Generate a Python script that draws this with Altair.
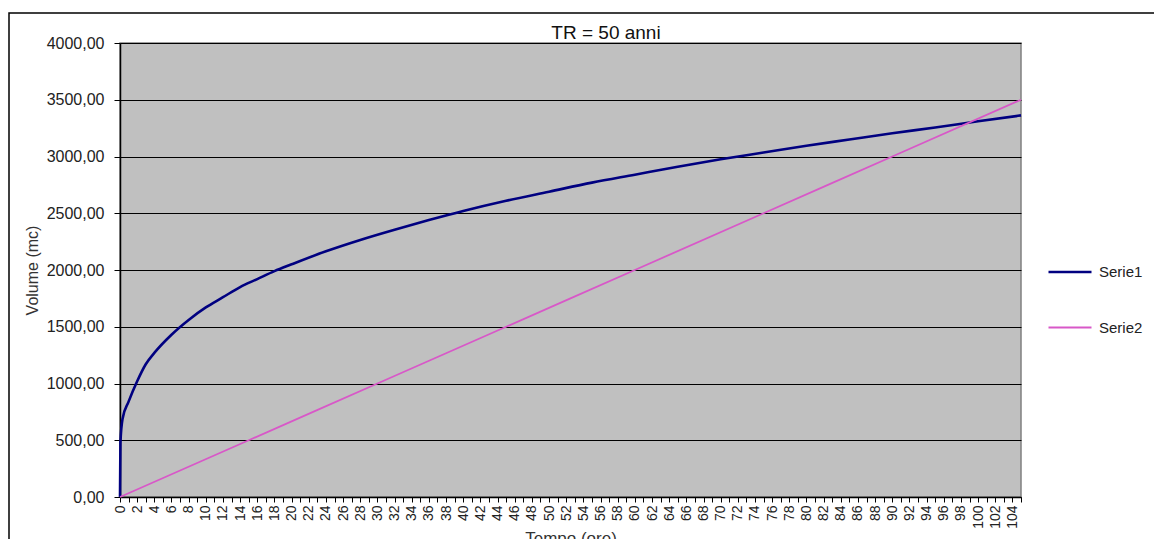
import altair as alt
import pandas as pd

# Serie1 – volume curve (hours, m3)
hours_s1 = [0, 0.05, 0.3, 1, 2, 3, 4, 6, 8, 10, 12, 14, 16, 18, 20, 24, 28, 32,
            36, 40, 45, 50, 55, 60, 65, 70, 75, 80, 85, 90, 95, 100, 105]
volume_s1 = [0, 480, 690, 840, 1020, 1170, 1270, 1430, 1560, 1670, 1760, 1850,
             1920, 1990, 2050, 2165, 2265, 2355, 2440, 2520, 2610, 2690, 2770,
             2840, 2910, 2975, 3035, 3095, 3150, 3205, 3255, 3310, 3362]
# Serie2 – straight line
hours_s2 = [0, 15, 30, 45, 60, 75, 90, 105]
volume_s2 = [0, 500, 1000, 1500, 2000, 2500, 3000, 3500]

series_names = ["Serie1", "Serie2"]
series_colors = ["#000080", "#D858C8"]
series_widths = [2.6, 1.8]
x_ticks = list(range(0, 106))
y_ticks = list(range(0, 4001, 500))
chart_title = "TR = 50 anni"

rows = [{"ore": h, "volume": v, "serie": "Serie1"} for h, v in zip(hours_s1, volume_s1)]
rows += [{"ore": h, "volume": v, "serie": "Serie2"} for h, v in zip(hours_s2, volume_s2)]
df = pd.DataFrame(rows)

FONT = "Liberation Sans"

legend = alt.Legend(
    title=None, orient="none", legendX=927, legendY=206,
    symbolType="stroke", symbolSize=1849, rowPadding=25,
    labelFont=FONT, labelFontSize=15, labelColor="#222222", labelOffset=6,
)

lines = alt.Chart(df).mark_line(interpolate="monotone").encode(
    x=alt.X("ore:Q",
            scale=alt.Scale(domain=[0, 105], nice=False, zero=True),
            axis=alt.Axis(values=x_ticks,
                          labelExpr="datum.value % 2 == 0 ? '' + datum.value : ''",
                          labelAngle=270, labelAlign="right", labelBaseline="middle",
                          labelFontSize=14, labelPadding=3, tickSize=5,
                          title="Tempo (ore)", titleFontSize=17, titlePadding=2,
                          grid=False)),
    y=alt.Y("volume:Q",
            scale=alt.Scale(domain=[0, 4000], nice=False),
            axis=alt.Axis(values=y_ticks,
                          labelExpr="replace(format(datum.value, '.2f'), '.', ',')",
                          labelFontSize=16, labelPadding=10, tickSize=6,
                          title="Volume (mc)", titleFontSize=16, titlePadding=6,
                          grid=True, gridColor="#000000", gridWidth=1)),
    color=alt.Color("serie:N",
                    scale=alt.Scale(domain=series_names, range=series_colors),
                    legend=legend),
    strokeWidth=alt.StrokeWidth("serie:N",
                                scale=alt.Scale(domain=series_names, range=series_widths),
                                legend=legend),
)

frame = alt.Chart(alt.Data(values=[{"f": 1}])).mark_rect(
    fill="transparent", stroke="#000000", strokeWidth=1.5
).encode(
    x=alt.value(-111), x2=alt.value(1080), y=alt.value(-30), y2=alt.value(600)
)

title_text = alt.Chart(alt.Data(values=[{"t": chart_title}])).mark_text(
    font=FONT, fontSize=19, color="#111111", align="center", baseline="alphabetic"
).encode(
    x=alt.value(486), y=alt.value(-4), text="t:N"
)

chart = alt.layer(lines, frame, title_text).properties(
    width=901, height=454,
    padding={"left": 112, "top": 35, "right": 133, "bottom": 42},
    autosize="none",
).configure(
    font=FONT,
).configure_view(
    fill="#C0C0C0", stroke="#808080", strokeWidth=1.5,
).configure_axis(
    labelFont=FONT, titleFont=FONT, labelColor="#222222", titleColor="#333333",
    titleFontWeight="normal", domainColor="#000000", domainWidth=1.5,
    tickColor="#000000", tickWidth=1,
)

chart.save("out.html", embed_options={"renderer": "svg", "actions": False})
